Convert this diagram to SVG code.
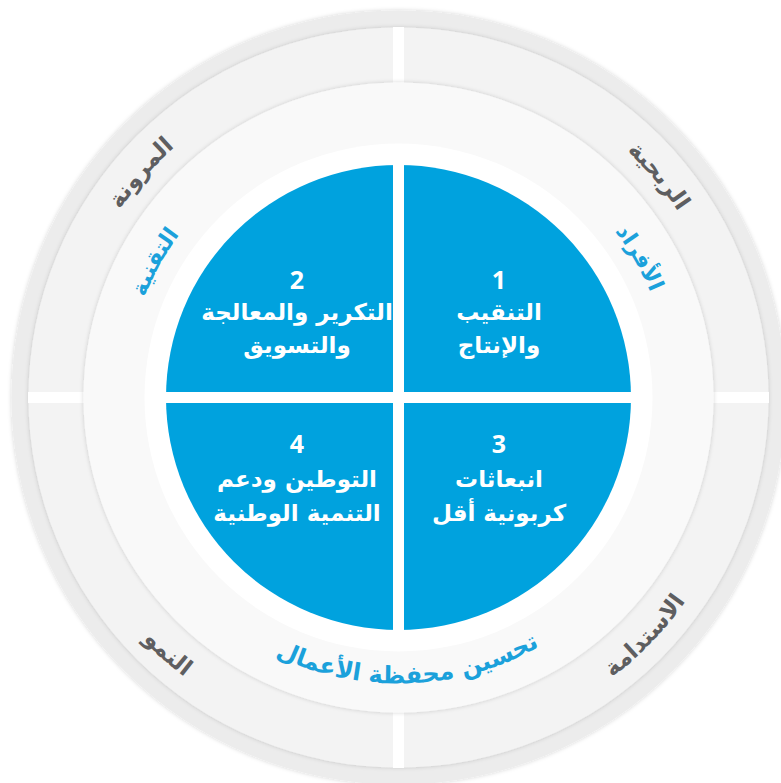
<svg xmlns="http://www.w3.org/2000/svg" xmlns:xlink="http://www.w3.org/1999/xlink" width="781" height="783" viewBox="0 0 781 783">
<style>
.gray{font-family:"DejaVu Sans",sans-serif;font-weight:bold;font-size:23px;fill:#5e5e60}
.blue{font-family:"DejaVu Sans",sans-serif;font-weight:bold;font-size:22px;fill:#1ba1db}
.q{font-family:"DejaVu Sans",sans-serif;font-weight:bold;font-size:23px;fill:#ffffff;text-anchor:middle}
.num{font-family:"Open Sans","DejaVu Sans",sans-serif;font-weight:bold;font-size:25px;fill:#ffffff;text-anchor:middle}
.quad{fill:#00a2de}
</style>
<defs>
<filter id="sh" x="-10%" y="-10%" width="120%" height="120%">
<feDropShadow dx="0" dy="0" stdDeviation="2" flood-color="#000" flood-opacity="0.18"/>
</filter>
<path id="pRib" d="M483.2,72.3 A336,336 0 0 1 733.0,365.9"/>
<path id="pMar" d="M64.4,361.8 A336,336 0 0 1 317.8,71.3"/>
<path id="pIst" d="M465.7,743.0 A352,352 0 0 0 746.2,452.6"/>
<path id="pNum" d="M55.5,476.7 A352,352 0 0 0 355.6,746.9"/>
<path id="pAfr" d="M513.4,149.9 A273,273 0 0 1 670.5,420.8"/>
<path id="pTaq" d="M126.9,425.6 A273,273 0 0 1 279.3,151.9"/>
<path id="pBot" d="M156.0,549.1 A286,286 0 0 0 651.0,531.8"/>
</defs>
<rect width="781" height="783" fill="#ffffff"/>
<g id="rings">
<circle cx="398.5" cy="397.5" r="387" fill="#ececec" filter="url(#sh)"/>
<circle cx="398.5" cy="397.5" r="370" fill="#f3f3f3" filter="url(#sh)"/>
<rect x="393" y="27" width="11" height="741" fill="#ffffff"/>
<rect x="28" y="392" width="741" height="11" fill="#ffffff"/>
<circle cx="398.5" cy="397.5" r="315" fill="#f9f9f9" filter="url(#sh)"/>
<circle cx="398.5" cy="397.5" r="254" fill="#ffffff"/>
</g>
<g id="outer-labels">
<text class="gray"><textPath xlink:href="#pRib" href="#pRib" startOffset="50%" text-anchor="middle">الربحية</textPath></text>
<text class="gray"><textPath xlink:href="#pMar" href="#pMar" startOffset="50%" text-anchor="middle">المرونة</textPath></text>
<text class="gray"><textPath xlink:href="#pIst" href="#pIst" startOffset="50%" text-anchor="middle">الاستدامة</textPath></text>
<text class="gray"><textPath xlink:href="#pNum" href="#pNum" startOffset="50%" text-anchor="middle">النمو</textPath></text>
</g>
<g id="inner-labels">
<text class="blue"><textPath xlink:href="#pAfr" href="#pAfr" startOffset="50%" text-anchor="middle">الأفراد</textPath></text>
<text class="blue"><textPath xlink:href="#pTaq" href="#pTaq" startOffset="50%" text-anchor="middle">التقنية</textPath></text>
<text class="blue" style="font-size:24px"><textPath xlink:href="#pBot" href="#pBot" startOffset="50%" text-anchor="middle">تحسين محفظة الأعمال</textPath></text>
</g>
<clipPath id="cq"><circle cx="398.5" cy="397.5" r="232.5"/></clipPath>
<g id="q1">
<rect class="quad" x="404" y="160" width="240" height="232" clip-path="url(#cq)"/>
<text class="num" x="499" y="289">1</text>
<text class="q" x="499" y="320">التنقيب</text>
<text class="q" x="499" y="353">والإنتاج</text>
</g>
<g id="q2">
<rect class="quad" x="160" y="160" width="233" height="232" clip-path="url(#cq)"/>
<text class="num" x="297" y="289">2</text>
<text class="q" x="297" y="320">التكرير والمعالجة</text>
<text class="q" x="297" y="353">والتسويق</text>
</g>
<g id="q3">
<rect class="quad" x="404" y="403" width="240" height="235" clip-path="url(#cq)"/>
<text class="num" x="499" y="453">3</text>
<text class="q" x="499" y="487">انبعاثات</text>
<text class="q" x="499" y="521">كربونية أقل</text>
</g>
<g id="q4">
<rect class="quad" x="160" y="403" width="233" height="235" clip-path="url(#cq)"/>
<text class="num" x="297" y="453">4</text>
<text class="q" x="297" y="487">التوطين ودعم</text>
<text class="q" x="297" y="521">التنمية الوطنية</text>
</g>
<g id="connectors"/>
</svg>
